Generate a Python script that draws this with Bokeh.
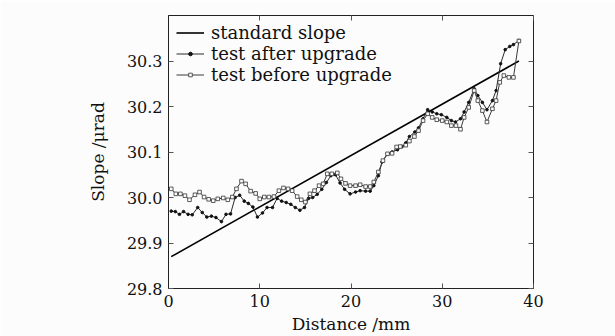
from bokeh.plotting import figure
from bokeh.models import (LinearAxis, FixedTicker, PrintfTickFormatter, Range1d, Legend,
                          LegendItem, CustomJSTickFormatter)
from bokeh.embed import file_html
from bokeh.resources import INLINE

# ---- data ----
standard_x = [0.3, 38.4]
standard_y = [29.87, 30.30]

after_x = [0.3, 0.75, 1.2, 1.65, 2.15, 2.6, 3.2, 3.7, 4.2, 4.7, 5.2, 5.8, 6.3, 6.8,
           7.3, 7.8, 8.3, 8.75, 9.25, 9.75, 10.3, 10.8, 11.4, 11.9, 12.4, 12.9, 13.4,
           13.9, 14.4, 14.9, 15.35, 15.8, 16.3, 16.8, 17.3, 17.8, 18.3, 18.8, 19.3,
           19.9, 20.5, 21.0, 21.6, 22.1, 22.5, 23.0, 23.4, 24.0, 24.5, 25.1, 25.6,
           26.0, 26.4, 27.0, 27.4, 27.9, 28.4, 28.9, 29.4, 29.9, 30.5, 31.0, 31.45,
           32.0, 32.4, 32.9, 33.5, 33.9, 34.4, 34.9, 35.5, 35.9, 36.4, 36.9, 37.4,
           37.8, 38.4]
after_y = [29.970, 29.969, 29.963, 29.969, 29.963, 29.962, 29.978, 29.967, 29.957,
           29.959, 29.956, 29.947, 29.963, 29.964, 30.000, 30.005, 29.992, 29.987,
           29.979, 29.957, 29.966, 29.978, 29.978, 29.998, 29.992, 29.989, 29.985,
           29.978, 29.972, 29.978, 29.998, 30.000, 30.007, 30.018, 30.033, 30.048,
           30.050, 30.032, 30.018, 30.008, 30.012, 30.015, 30.014, 30.014, 30.026,
           30.048, 30.078, 30.096, 30.100, 30.105, 30.112, 30.120, 30.134, 30.144,
           30.153, 30.173, 30.193, 30.188, 30.184, 30.182, 30.176, 30.169, 30.166,
           30.173, 30.188, 30.209, 30.239, 30.224, 30.209, 30.193, 30.213, 30.235,
           30.294, 30.325, 30.332, 30.336, 30.345]

before_x = [0.3, 0.8, 1.3, 1.8, 2.3, 2.9, 3.4, 3.9, 4.4, 4.9, 5.4, 6.0, 6.5, 7.0,
            7.45, 8.0, 8.45, 9.0, 9.55, 10.0, 10.5, 11.0, 11.55, 12.1, 12.6, 13.1,
            13.55, 14.1, 14.55, 15.0, 15.5, 16.0, 16.5, 16.95, 17.4, 17.9, 18.5,
            18.9, 19.4, 19.9, 20.5, 21.0, 21.6, 22.1, 22.5, 23.0, 23.5, 24.0, 24.5,
            25.0, 25.4, 26.0, 26.4, 26.95, 27.4, 27.9, 28.4, 28.9, 29.4, 30.0, 30.5,
            31.0, 31.5, 32.0, 32.4, 32.9, 33.5, 33.9, 34.4, 34.9, 35.5, 35.9, 36.3,
            36.75, 37.3, 37.8, 38.4]
before_y = [30.019, 30.008, 30.008, 30.004, 29.995, 30.006, 30.012, 30.001, 29.996,
            29.993, 29.997, 29.999, 29.995, 30.001, 30.019, 30.036, 30.030, 30.014,
            30.009, 29.997, 30.001, 30.001, 30.002, 30.015, 30.021, 30.019, 30.015,
            30.002, 29.995, 29.990, 30.008, 30.015, 30.026, 30.030, 30.052, 30.052,
            30.054, 30.041, 30.031, 30.026, 30.026, 30.028, 30.024, 30.024, 30.034,
            30.056, 30.081, 30.096, 30.097, 30.111, 30.112, 30.115, 30.124, 30.134,
            30.147, 30.169, 30.184, 30.176, 30.171, 30.169, 30.166, 30.158, 30.158,
            30.150, 30.176, 30.198, 30.235, 30.213, 30.191, 30.166, 30.195, 30.213,
            30.253, 30.268, 30.264, 30.264, 30.344]

x_ticks = [0, 10, 20, 30, 40]
y_ticks = [29.8, 29.9, 30.0, 30.1, 30.2, 30.3]
x_label = "Distance /mm"
y_label = "Slope /\u03bcrad"
series_names = ["standard slope", "test after upgrade", "test before upgrade"]

FONT = "DejaVu Serif"
BG = "#fcfcfc"

p = figure(width=615, height=336, output_backend="svg", toolbar_location=None,
           x_range=Range1d(0, 40), y_range=Range1d(29.8, 30.4),
           min_border_left=168, min_border_right=82, min_border_top=15,
           min_border_bottom=48, background_fill_color=BG, border_fill_color=BG)
p.grid.visible = False
p.outline_line_color = "#222222"
p.outline_line_width = 1

# main axes
for ax, ticks, lab in ((p.xaxis[0], x_ticks, x_label), (p.yaxis[0], y_ticks, y_label)):
    ax.ticker = FixedTicker(ticks=ticks)
    ax.axis_label = lab
    ax.axis_label_text_font = FONT
    ax.axis_label_text_font_style = "normal"
    ax.axis_label_text_font_size = "17px"
    ax.axis_label_text_color = "#111111"
    ax.major_label_text_font = FONT
    ax.major_label_text_font_size = "16px"
    ax.major_label_text_color = "#111111"
    ax.major_tick_in = 5
    ax.major_tick_out = 0
    ax.minor_tick_in = 0
    ax.minor_tick_out = 0
    ax.axis_line_color = "#222222"
    ax.major_tick_line_color = "#555555"
p.yaxis[0].formatter = PrintfTickFormatter(format="%.1f")
p.xaxis[0].axis_label_standoff = 4
p.xaxis[0].major_label_standoff = 6
p.yaxis[0].axis_label_standoff = 16
p.yaxis[0].major_label_standoff = 6

# mirrored axes (ticks only, no labels)
blank = CustomJSTickFormatter(code="return '';")
top = LinearAxis(ticker=FixedTicker(ticks=x_ticks), formatter=blank,
                 major_tick_in=5, major_tick_out=0, minor_tick_in=0, minor_tick_out=0,
                 axis_line_color=None, major_tick_line_color="#555555",
                 major_label_standoff=0)
right = LinearAxis(ticker=FixedTicker(ticks=y_ticks), formatter=blank,
                   major_tick_in=5, major_tick_out=0, minor_tick_in=0, minor_tick_out=0,
                   axis_line_color=None, major_tick_line_color="#555555",
                   major_label_standoff=0)
p.add_layout(top, "above")
p.add_layout(right, "right")

# glyphs
r_std = p.line(standard_x, standard_y, line_color="black", line_width=1.6)
r_al = p.line(after_x, after_y, line_color="#2a2a2a", line_width=1)
r_am = p.scatter(after_x, after_y, marker="circle", size=2.6, fill_color="#111111",
                 line_color="#111111")
r_bl = p.line(before_x, before_y, line_color="#3a3a3a", line_width=1)
r_bm = p.scatter(before_x, before_y, marker="square", size=3.6, fill_color=BG,
                 line_color="#333333", line_width=0.8)

legend = Legend(items=[
    LegendItem(label=series_names[0], renderers=[r_std]),
    LegendItem(label=series_names[1], renderers=[r_al, r_am]),
    LegendItem(label=series_names[2], renderers=[r_bl, r_bm]),
], location=(8, 203))
legend.label_text_font = FONT
legend.label_text_font_size = "18px"
legend.label_text_color = "#111111"
legend.border_line_color = None
legend.background_fill_alpha = 0
legend.glyph_width = 28
legend.glyph_height = 9
legend.label_height = 21
legend.spacing = 0
legend.padding = 4
legend.margin = 0
legend.label_standoff = 7
p.add_layout(legend)

open("out.html", "w").write(file_html(p, INLINE))
